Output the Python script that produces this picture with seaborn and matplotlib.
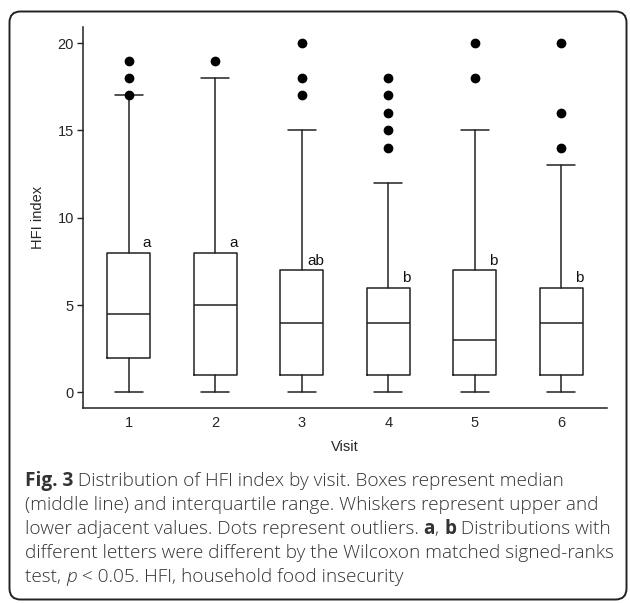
import matplotlib
matplotlib.use("Agg")
import matplotlib.pyplot as plt
import seaborn as sns
from matplotlib.patches import FancyBboxPatch
from matplotlib.transforms import IdentityTransform

# ---- data ----
visits = ["1", "2", "3", "4", "5", "6"]
whisker_low = [0, 0, 0, 0, 0, 0]
q1 = [2, 1, 1, 1, 1, 1]
medians = [4.5, 5, 4, 4, 3, 4]
q3 = [8, 8, 7, 6, 7, 6]
whisker_high = [17, 18, 15, 12, 15, 13]
outliers = [[17, 18, 19], [19], [17, 18, 20], [14, 15, 16, 17, 18], [18, 20], [14, 16, 20]]
letters = ["a", "a", "ab", "b", "b", "b"]

caption_lines = [
    [("Fig. 3", "bold"), (" Distribution of HFI index by visit. Boxes represent median", "normal")],
    [("(middle line) and interquartile range. Whiskers represent upper and", "normal")],
    [("lower adjacent values. Dots represent outliers. ", "normal"), ("a", "bold"),
     (", ", "normal"), ("b", "bold"), (" Distributions with", "normal")],
    [("different letters were different by the Wilcoxon matched signed-ranks", "normal")],
    [("test, ", "normal"), ("p", "italic"), (" < 0.05. HFI, household food insecurity", "normal")],
]

sns.set_style("ticks")
plt.rcParams['font.family'] = ['Liberation Sans', 'DejaVu Sans']

W, H = 630, 603
fig = plt.figure(figsize=(W / 100, H / 100), dpi=100)
ax = fig.add_axes([83 / W, 1 - 408 / H, 524 / W, 381 / H])

stats = []
for i, v in enumerate(visits):
    stats.append(dict(label=v, whislo=whisker_low[i], q1=q1[i], med=medians[i],
                      q3=q3[i], whishi=whisker_high[i], fliers=outliers[i]))

line_kw = dict(color="#222222", linewidth=1.1)
positions = list(range(1, len(visits) + 1))
ax.bxp(stats, positions=positions, widths=0.5, capwidths=0.32,
       boxprops=line_kw, whiskerprops=line_kw, capprops=line_kw,
       medianprops=line_kw,
       flierprops=dict(marker="o", markerfacecolor="black", markeredgecolor="black",
                       markersize=6, linestyle="none"))

# significance letters next to the boxes
for pos, top, lab in zip(positions, q3, letters):
    ax.text(pos + 0.26, top + 0.3, lab, ha="right", va="baseline",
            fontsize=11, color="#111111")

ax.set_xlim(0.47, 6.53)
ax.set_ylim(-0.89, 20.92)
ax.set_yticks([0, 5, 10, 15, 20])
ax.tick_params(axis="y", length=4.5, width=1, labelsize=10.5, pad=2, color="#222222")
ax.tick_params(axis="x", length=0, labelsize=10.5, pad=6)
ax.set_xlabel("Visit", fontsize=10.5)
ax.set_ylabel("HFI index", fontsize=10.5)
ax.xaxis.set_label_coords(0.5, -0.085)
ax.yaxis.set_label_coords(-0.072, 0.5)
sns.despine(ax=ax)
for side in ["left", "bottom"]:
    ax.spines[side].set_linewidth(1.1)
    ax.spines[side].set_color("#222222")

# rounded frame around figure + caption
frame = FancyBboxPatch((9.5, 3.5), 617, 588, boxstyle="round,pad=0,rounding_size=11",
                       transform=IdentityTransform(), fill=False,
                       edgecolor="#222222", linewidth=1.4)
fig.patches.append(frame)

# caption, drawn run by run so bold/italic pieces can be mixed
renderer = fig.canvas.get_renderer()
cap_font = ['Open Sans', 'DejaVu Sans']
baseline = 486
for runs in caption_lines:
    x = 25
    for s, style in runs:
        weight = "bold" if style == "bold" else "light"
        fstyle = "italic" if style == "italic" else "normal"
        t = fig.text(x, H - baseline, s, transform=IdentityTransform(),
                     fontsize=13.7, family=cap_font, weight=weight, style=fstyle,
                     ha="left", va="baseline", color="#333333")
        x = t.get_window_extent(renderer).x1
    baseline += 24

fig.savefig("out.png", dpi=100)
